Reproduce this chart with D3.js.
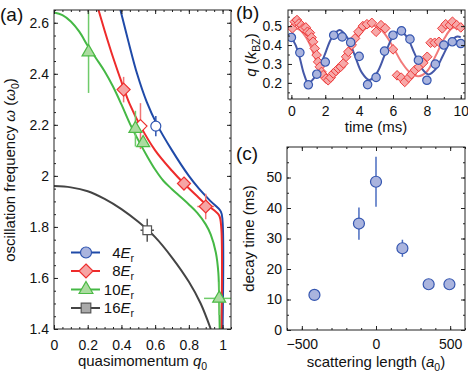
<!DOCTYPE html>
<html lang="en">
<head>
<meta charset="UTF-8">
<title>Lattice oscillations</title>
<script src="https://d3js.org/d3.v7.min.js"></script>
<style>
  body { margin: 0; background: #fff; }
  svg { display: block; font-family: "Liberation Sans", Arial, sans-serif; }
  .axis text { font-family: "Liberation Sans", Arial, sans-serif; font-size: 14px; fill: #111; }
  .axis line { stroke: #222; }
  .lbl { font-size: 15px; fill: #111; }
  .plab { font-size: 19px; fill: #111; }
</style>
</head>
<body>
<svg width="468" height="374"></svg>
<script>
// ---------- (a) frequency vs quasimomentum, theory curves [q0, omega]
var curve4 = [[0.394,2.65],[0.44,2.53],[0.493,2.40],[0.55,2.29],[0.612,2.20],[0.7,2.10],[0.8,2.0],[0.86,1.95],[0.93,1.9],[0.99,1.86],[1.0,1.82],[1.0,1.4]];
var curve8 = [[0.264,2.65],[0.3,2.57],[0.35,2.465],[0.413,2.345],[0.45,2.28],[0.513,2.195],[0.6,2.1],[0.7,2.02],[0.771,1.97],[0.85,1.92],[0.9,1.89],[0.95,1.865],[0.98,1.845],[0.992,1.8],[0.993,1.4]];
var curve10 = [[0,2.64],[0.05,2.63],[0.1,2.605],[0.15,2.565],[0.2,2.51],[0.25,2.46],[0.3,2.41],[0.35,2.35],[0.4,2.28],[0.45,2.205],[0.5,2.14],[0.55,2.08],[0.6,2.025],[0.65,1.98],[0.7,1.948],[0.75,1.918],[0.8,1.888],[0.85,1.855],[0.9,1.81],[0.93,1.77],[0.96,1.70],[0.975,1.62],[0.98,1.5],[0.983,1.4]];
var curve16 = [[0,1.96],[0.1,1.955],[0.2,1.94],[0.3,1.91],[0.4,1.87],[0.5,1.82],[0.6,1.76],[0.7,1.68],[0.8,1.585],[0.87,1.5],[0.93,1.4]];

// measured points [q0, omega, err q0, err omega, open marker]
var pts4 = [[0.604,2.195,0,0.04,true]];
var pts8 = [[0.413,2.338,0,0.05,false],[0.513,2.195,0,0.09,true],[0.771,1.97,0.02,0.02,false],[0.9,1.88,0.05,0.05,false]];
var pts10 = [[0.205,2.485,0,0.16,false],[0.483,2.185,0,0.07,false],[0.529,2.129,0,0,false],[0.98,1.52,0.09,0.065,false]];
var pts16 = [[0.553,1.787,0.04,0.045,true]];

var legendNames = ["4", "8", "10", "16"];
var aTicksX = [0,0.2,0.4,0.6,0.8,1];
var aTicksY = [1.4,1.6,1.8,2,2.2,2.4,2.6];

// ---------- (b) q(t) time traces
var blueT = [0,0.5,1,1.5,2,2.5,3,3.5,4,4.5,5,5.5,6,6.5,7,7.5,8,8.5,9,9.5,10];
var blueQ = [0.44,0.36,0.19,0.246,0.31,0.452,0.443,0.414,0.34,0.191,0.229,0.368,0.452,0.475,0.431,0.32,0.214,0.299,0.40,0.417,0.408];
var redT = [0.06,0.2,0.33,0.45,0.59,0.69,0.85,0.95,1.09,1.19,1.28,1.38,1.49,1.58,1.68,1.78,1.88,2.04,2.17,2.32,2.47,2.63,2.77,2.91,3.07,3.23,3.36,3.56,3.76,3.96,4.22,4.46,4.75,5.0,5.29,5.54,6.0,6.24,6.48,6.69,6.93,7.09,7.29,7.52,7.78,8.02,8.22,8.46,8.71,8.91,9.11,9.36,9.51,9.76,10.0];
var redQ = [0.488,0.523,0.532,0.514,0.505,0.488,0.493,0.47,0.465,0.44,0.417,0.382,0.347,0.311,0.285,0.258,0.241,0.223,0.214,0.228,0.25,0.263,0.276,0.285,0.303,0.338,0.364,0.40,0.435,0.47,0.50,0.51,0.517,0.47,0.505,0.488,0.377,0.24,0.228,0.205,0.228,0.246,0.267,0.285,0.306,0.338,0.412,0.412,0.417,0.488,0.51,0.505,0.523,0.505,0.493];
var blueFitT = [0,0.25,0.5,0.75,1.0,1.46,1.93,2.39,2.85,3.29,3.73,4.16,4.6,5.05,5.5,5.95,6.4,6.83,7.25,7.68,8.1,8.53,8.95,9.38,9.8,10];
var blueFitQ = [0.44,0.40,0.33,0.245,0.20,0.241,0.34,0.439,0.48,0.441,0.348,0.254,0.215,0.253,0.345,0.437,0.475,0.441,0.36,0.279,0.245,0.274,0.345,0.416,0.445,0.44];
var redFitT = [0,0.5,1,1.5,2,2.5,3,3.5,4,4.5,5,5.5,6,6.5,7,7.5,8,8.5,9,9.5,10];
var redFitQ = [0.49,0.48,0.42,0.31,0.225,0.235,0.29,0.37,0.45,0.495,0.50,0.46,0.39,0.31,0.255,0.235,0.26,0.34,0.43,0.49,0.49];
var bTicksX = [0,2,4,6,8,10];
var bTicksY = [0.2,0.3,0.4,0.5];

// ---------- (c) decay time vs scattering length
var scatLen = [-415,-115,0,178,355,495];
var decay = [11.5,34.9,48.6,26.8,15.0,15.0];
var decayErr = [0,5.3,8.2,2.8,0,0];
var cTicksX = [-500,0,500];
var cTicksY = [0,10,20,30,40,50];

var svg = d3.select("svg");
var fmt = d => (d < 0 ? "\u2212" : "") + (+Math.abs(d).toFixed(2));

function shape(type, r) {
  if (type == "circle") return `M${-r},0a${r},${r} 0 1,0 ${2*r},0a${r},${r} 0 1,0 ${-2*r},0Z`;
  if (type == "diamond") return `M0,${-r}L${r},0L0,${r}L${-r},0Z`;
  if (type == "triangle") return `M0,${-r}L${r*0.866},${r*0.5}L${-r*0.866},${r*0.5}Z`;
  return `M${-r},${-r}h${2*r}v${2*r}h${-2*r}Z`;
}

function axes(x, y, xt, yt, xm, ym, xpad, ypad) {
  var r = x.range(), d = y.range();
  var g = svg.append("g");
  g.append("g").attr("class","axis").attr("transform",`translate(0,${d[0]})`)
    .call(d3.axisBottom(x).tickValues(xm).tickSize(-2).tickFormat(""));
  g.append("g").attr("class","axis").attr("transform",`translate(0,${d[1]})`)
    .call(d3.axisTop(x).tickValues(xm).tickSize(-2).tickFormat(""));
  g.append("g").attr("class","axis").attr("transform",`translate(${r[0]},0)`)
    .call(d3.axisLeft(y).tickValues(ym).tickSize(-2).tickFormat(""));
  g.append("g").attr("class","axis").attr("transform",`translate(${r[1]},0)`)
    .call(d3.axisRight(y).tickValues(ym).tickSize(-2).tickFormat(""));
  g.append("g").attr("class","axis").attr("transform",`translate(0,${d[0]})`)
    .call(d3.axisBottom(x).tickValues(xt).tickSize(-4).tickPadding(xpad).tickFormat(fmt));
  g.append("g").attr("class","axis").attr("transform",`translate(0,${d[1]})`)
    .call(d3.axisTop(x).tickValues(xt).tickSize(-4).tickFormat(""));
  g.append("g").attr("class","axis").attr("transform",`translate(${r[0]},0)`)
    .call(d3.axisLeft(y).tickValues(yt).tickSize(-4).tickPadding(ypad).tickFormat(fmt));
  g.append("g").attr("class","axis").attr("transform",`translate(${r[1]},0)`)
    .call(d3.axisRight(y).tickValues(yt).tickSize(-4).tickFormat(""));
  g.selectAll(".domain").remove();
  g.append("rect").attr("x", r[0]).attr("y", d[1]).attr("width", r[1]-r[0]).attr("height", d[0]-d[1])
    .attr("fill","none").attr("stroke","#222").attr("stroke-width",1);
}

function clip(id, x, y) {
  var r = x.range(), d = y.range();
  svg.append("clipPath").attr("id", id).append("rect")
    .attr("x", r[0]).attr("y", d[1]).attr("width", r[1]-r[0]).attr("height", d[0]-d[1]);
}

// rich text: parts = [[text, "n"|"i"|"sub"]]
function rich(t, parts) {
  var shifted = false;
  parts.forEach(p => {
    var s = t.append("tspan").text(p[0]);
    if (p[1] == "i") s.attr("font-style","italic");
    if (p[1] == "sub") { s.attr("font-size","0.7em").attr("dy", 4); shifted = true; }
    else if (shifted) { s.attr("dy", -4); shifted = false; }
  });
  return t;
}

// ================= panel (a)
var xa = d3.scaleLinear().domain([0,1.05]).range([54,231]);
var ya = d3.scaleLinear().domain([1.4,2.65]).range([329,10]);
clip("clipA", xa, ya);
var ga = svg.append("g").attr("clip-path","url(#clipA)");
var lineA = d3.line().x(d => xa(d[0])).y(d => ya(d[1])).curve(d3.curveCatmullRom.alpha(0.5));

var seriesA = [
  {c: curve4, p: pts4, line: "#1f4aa8", mk: "circle", r: 5, fill: "#aab4de", stroke: "#2f55b0", err: "#2f55b0"},
  {c: curve8, p: pts8, line: "#ee2b2b", mk: "diamond", r: 6.5, fill: "#f6a4a4", stroke: "#ee3030", err: "#f07575"},
  {c: curve10, p: pts10, line: "#45b845", mk: "triangle", r: 7.5, fill: "#abdca0", stroke: "#4cba46", err: "#6fcb6a"},
  {c: curve16, p: pts16, line: "#444", mk: "square", r: 4.3, fill: "#aaa", stroke: "#555", err: "#555"}
];

seriesA.forEach(s => {
  ga.append("path").attr("d", lineA(s.c)).attr("fill","none").attr("stroke", s.line).attr("stroke-width", 2);
});
seriesA.forEach(s => {
  s.p.forEach(d => {
    if (d[3] > 0) ga.append("line").attr("x1", xa(d[0])).attr("x2", xa(d[0]))
      .attr("y1", ya(d[1]-d[3])).attr("y2", ya(d[1]+d[3])).attr("stroke", s.err).attr("stroke-width", 1.5);
    if (d[2] > 0) ga.append("line").attr("x1", xa(d[0]-d[2])).attr("x2", xa(d[0]+d[2]))
      .attr("y1", ya(d[1])).attr("y2", ya(d[1])).attr("stroke", s.err).attr("stroke-width", 1.5);
  });
});
seriesA.forEach(s => {
  s.p.forEach(d => {
    ga.append("path").attr("d", shape(s.mk, s.r)).attr("transform", `translate(${xa(d[0])},${ya(d[1])})`)
      .attr("fill", d[4] ? "#fff" : s.fill).attr("stroke", s.stroke).attr("stroke-width", 1.2);
  });
});
axes(xa, ya, aTicksX, aTicksY, d3.range(0, 1.051, 0.05), d3.range(1.4, 2.651, 0.05), 11, 5);

// legend
var legY = [252.5, 271, 289.5, 308];
seriesA.forEach((s, i) => {
  svg.append("line").attr("x1", 71).attr("x2", 100).attr("y1", legY[i]).attr("y2", legY[i])
    .attr("stroke", s.line).attr("stroke-width", 2);
  svg.append("path").attr("d", shape(s.mk, s.r + 0.5)).attr("transform", `translate(86,${legY[i]})`)
    .attr("fill", s.fill).attr("stroke", s.stroke).attr("stroke-width", 1.2);
  var t = svg.append("text").attr("class","lbl").attr("x", 134).attr("y", legY[i] + 5).attr("text-anchor","end");
  rich(t, [[legendNames[i], "n"], ["E", "i"], ["r", "sub"]]);
});

rich(svg.append("text").attr("class","lbl").attr("text-anchor","middle").attr("x", 142.5).attr("y", 366),
  [["quasimomentum ", "n"], ["q", "i"], ["0", "sub"]]);
rich(svg.append("text").attr("class","lbl").attr("text-anchor","middle").attr("transform","translate(15,170) rotate(-90)"),
  [["oscillation frequency ", "n"], ["\u03c9", "i"], [" (", "n"], ["\u03c9", "i"], ["0", "sub"], [")", "n"]]);
svg.append("text").attr("class","plab").attr("x", 0).attr("y", 21).text("(a)");

// ================= panel (b)
var xb = d3.scaleLinear().domain([-0.2,10.25]).range([288,465]);
var yb = d3.scaleLinear().domain([0.115,0.585]).range([99,10]);
clip("clipB", xb, yb);
var gb = svg.append("g").attr("clip-path","url(#clipB)");
var lineB = d3.line().x(d => xb(d[0])).y(d => yb(d[1])).curve(d3.curveCatmullRom.alpha(0.5));
gb.append("path").attr("d", lineB(redFitT.map((t, i) => [t, redFitQ[i]])))
  .attr("fill","none").attr("stroke","#f27a7a").attr("stroke-width", 2);
gb.append("path").attr("d", lineB(blueFitT.map((t, i) => [t, blueFitQ[i]])))
  .attr("fill","none").attr("stroke","#4558a8").attr("stroke-width", 2);
gb.selectAll(".rd").data(redT.map((t, i) => [t, redQ[i]])).enter().append("path")
  .attr("d", shape("diamond", 4.8)).attr("transform", d => `translate(${xb(d[0])},${yb(d[1])})`)
  .attr("fill","#f7a8a8").attr("stroke","#ee3a3a").attr("stroke-width", 1);
gb.selectAll(".bc").data(blueT.map((t, i) => [t, blueQ[i]])).enter().append("path")
  .attr("d", shape("circle", 4.2)).attr("transform", d => `translate(${xb(d[0])},${yb(d[1])})`)
  .attr("fill","#aab4de").attr("stroke","#3556b0").attr("stroke-width", 1.2);
axes(xb, yb, bTicksX, bTicksY, d3.range(0, 10.1, 1), d3.range(0.15, 0.58, 0.05), 7, 6);

rich(svg.append("text").attr("class","lbl").attr("text-anchor","middle").attr("x", 376).attr("y", 132),
  [["time (ms)", "n"]]);
rich(svg.append("text").attr("class","lbl").attr("text-anchor","middle").attr("transform","translate(256,55) rotate(-90)"),
  [["q", "i"], [" (", "n"], ["k", "i"], ["BZ", "sub"], [")", "n"]]);
svg.append("text").attr("class","plab").attr("x", 236).attr("y", 19).text("(b)");

// ================= panel (c)
var xc = d3.scaleLinear().domain([-600,600]).range([287,465]);
var yc = d3.scaleLinear().domain([0,60]).range([330,147]);
var pc = scatLen.map((a, i) => [a, decay[i], decayErr[i]]);
svg.selectAll(".ce").data(pc.filter(d => d[2] > 0)).enter().append("line")
  .attr("x1", d => xc(d[0])).attr("x2", d => xc(d[0]))
  .attr("y1", d => yc(d[1]-d[2])).attr("y2", d => yc(d[1]+d[2]))
  .attr("stroke","#4a6cc0").attr("stroke-width", 1.5);
svg.selectAll(".cc").data(pc).enter().append("path")
  .attr("d", shape("circle", 5.5)).attr("transform", d => `translate(${xc(d[0])},${yc(d[1])})`)
  .attr("fill","#aab4de").attr("stroke","#3556b0").attr("stroke-width", 1.2);
axes(xc, yc, cTicksX, cTicksY, d3.range(-600, 601, 100), d3.range(0, 61, 5), 9, 5);

rich(svg.append("text").attr("class","lbl").attr("text-anchor","middle").attr("x", 376).attr("y", 367),
  [["scattering length (", "n"], ["a", "i"], ["0", "sub"], [")", "n"]]);
rich(svg.append("text").attr("class","lbl").attr("text-anchor","middle").attr("transform","translate(254,238.5) rotate(-90)"),
  [["decay time (ms)", "n"]]);
svg.append("text").attr("class","plab").attr("x", 236).attr("y", 160).text("(c)");
</script>
</body>
</html>
